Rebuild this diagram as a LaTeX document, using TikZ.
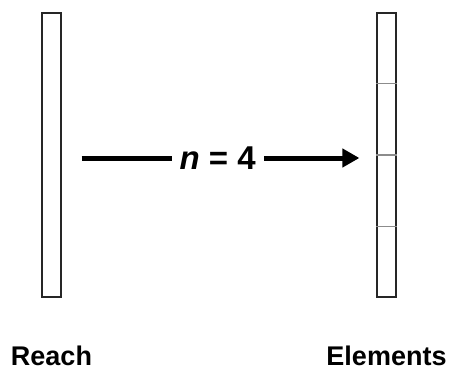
\documentclass[tikz,border=0pt]{standalone}
\usepackage{fontspec}
\setmainfont{Liberation Sans}
\usetikzlibrary{arrows.meta,calc}
\begin{document}
\begin{tikzpicture}[x=1pt,y=-1pt,
  bar/.style={draw=black!85, line width=1.2pt, fill=white, minimum width=19pt, minimum height=284pt, inner sep=0pt},
  divider/.style={draw=black!45, line width=1.5pt},
  bigarrow/.style={line width=5pt, -{Triangle[length=17pt,width=18pt]}},
  caption/.style={font=\fontsize{27}{30}\selectfont\bfseries, anchor=base, inner sep=0pt}]
\useasboundingbox (0,0) rectangle (451,367);
\node[bar] (reach) at (51.5,155) {};
\node[bar] (elements) at (386.5,155) {};
\foreach \i in {1,2,3}
  \draw[divider] ($(elements.north west)!\i/4!(elements.south west)$) -- ($(elements.north east)!\i/4!(elements.south east)$);
\draw[bigarrow] ([xshift=20pt,yshift=-3pt]reach.east) -- node[fill=white, inner sep=8pt, font=\fontsize{33}{36}\selectfont\bfseries, pos=0.49] (count) {\textit{n} = 4} ([xshift=-17pt,yshift=-3pt]elements.west);
\node[caption] (reachlabel) at (51.5,365) {Reach};
\node[caption] (elementslabel) at (386.5,365) {Elements};
\end{tikzpicture}
\end{document}
